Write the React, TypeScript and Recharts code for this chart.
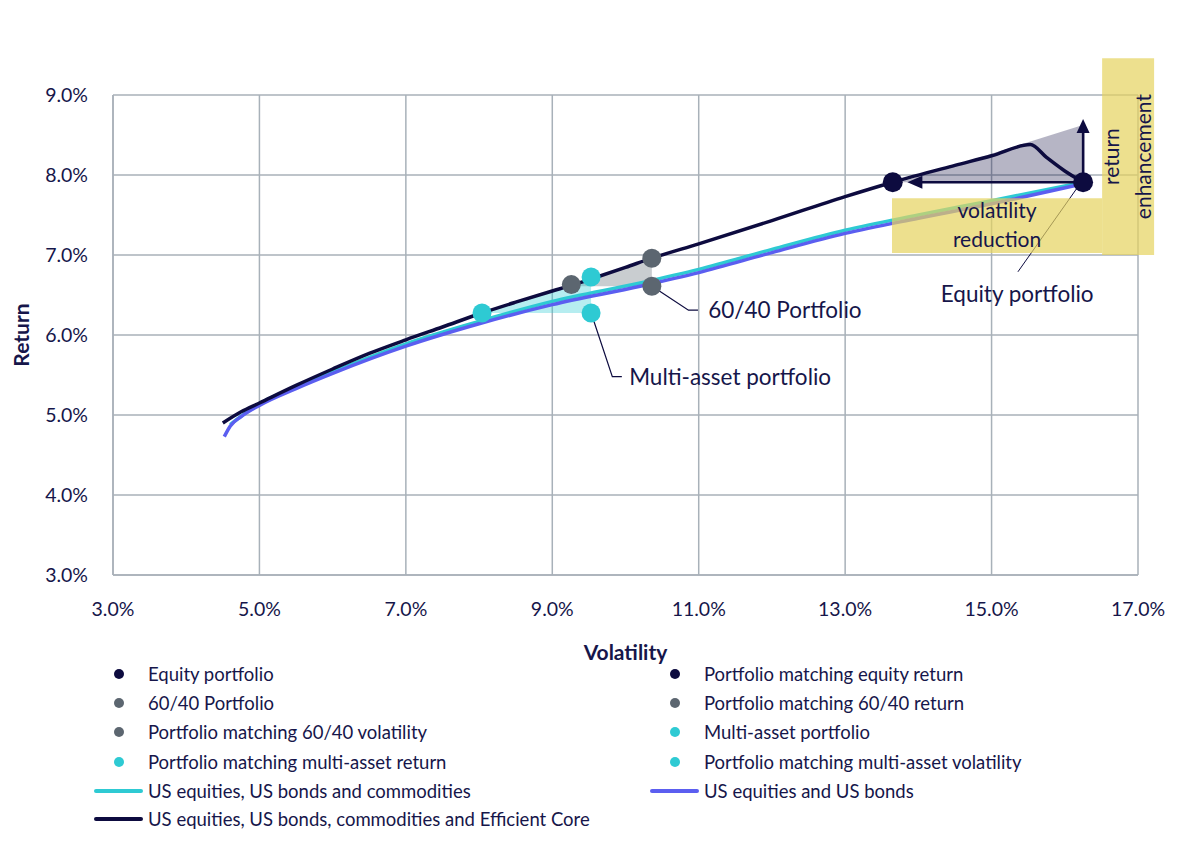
import React from 'react';
import {
  ComposedChart,
  XAxis,
  YAxis,
  CartesianGrid,
  Line,
  Area,
  Scatter,
  ReferenceArea,
} from 'recharts';

const FONT = 'Lato, "Noto Sans", sans-serif';
const NAVY = '#0d0b3f';
const SLATE = '#5c6670';
const CYAN = '#2ecad3';
const BLUE = '#5b5ef0';
const GRID = '#a8b1b9';
const TEXT = '#16164a';
const YELLOW = '#e5d35e';

const volatilityTicks = [3, 5, 7, 9, 11, 13, 15, 17];
const returnTicks = [3, 4, 5, 6, 7, 8, 9];

// Efficient frontiers (volatility %, return %)
const efficientCoreFrontier = [
  { vol: 4.5, ret: 4.9 },
  { vol: 4.75, ret: 5.04 },
  { vol: 5.0, ret: 5.15 },
  { vol: 5.5, ret: 5.37 },
  { vol: 6.0, ret: 5.575 },
  { vol: 6.5, ret: 5.77 },
  { vol: 7.0, ret: 5.94 },
  { vol: 7.5, ret: 6.1 },
  { vol: 8.04, ret: 6.275 },
  { vol: 8.5, ret: 6.41 },
  { vol: 9.0, ret: 6.55 },
  { vol: 9.26, ret: 6.62 },
  { vol: 9.53, ret: 6.7 },
  { vol: 10.0, ret: 6.845 },
  { vol: 10.36, ret: 6.96 },
  { vol: 11.0, ret: 7.14 },
  { vol: 12.0, ret: 7.43 },
  { vol: 13.0, ret: 7.73 },
  { vol: 13.65, ret: 7.91 },
  { vol: 14.5, ret: 8.12 },
  { vol: 15.0, ret: 8.24 },
  { vol: 15.53, ret: 8.38 },
  { vol: 15.75, ret: 8.22 },
  { vol: 16.0, ret: 8.05 },
  { vol: 16.25, ret: 7.91 },
];

const commoditiesFrontier = [
  { vol: 4.6, ret: 4.88 },
  { vol: 5.0, ret: 5.14 },
  { vol: 5.5, ret: 5.35 },
  { vol: 6.0, ret: 5.54 },
  { vol: 7.0, ret: 5.89 },
  { vol: 8.0, ret: 6.17 },
  { vol: 9.0, ret: 6.42 },
  { vol: 10.2, ret: 6.65 },
  { vol: 11.0, ret: 6.82 },
  { vol: 12.0, ret: 7.07 },
  { vol: 13.0, ret: 7.31 },
  { vol: 14.0, ret: 7.5 },
  { vol: 15.0, ret: 7.68 },
  { vol: 16.25, ret: 7.91 },
];

const bondsFrontier = [
  { vol: 4.52, ret: 4.73 },
  { vol: 4.6, ret: 4.86 },
  { vol: 4.75, ret: 4.98 },
  { vol: 5.0, ret: 5.12 },
  { vol: 5.5, ret: 5.33 },
  { vol: 6.0, ret: 5.52 },
  { vol: 7.0, ret: 5.86 },
  { vol: 8.0, ret: 6.14 },
  { vol: 9.0, ret: 6.38 },
  { vol: 10.2, ret: 6.61 },
  { vol: 11.0, ret: 6.78 },
  { vol: 12.0, ret: 7.03 },
  { vol: 13.0, ret: 7.27 },
  { vol: 14.0, ret: 7.46 },
  { vol: 15.0, ret: 7.64 },
  { vol: 16.25, ret: 7.89 },
];

// Portfolios
const equityPortfolio = [{ vol: 16.25, ret: 7.91 }];
const matchingEquityReturn = [{ vol: 13.65, ret: 7.91 }];
const portfolio6040 = [{ vol: 10.36, ret: 6.61 }];
const matching6040Return = [{ vol: 9.26, ret: 6.63 }];
const matching6040Volatility = [{ vol: 10.36, ret: 6.96 }];
const multiAssetPortfolio = [{ vol: 9.53, ret: 6.275 }];
const matchingMultiAssetReturn = [{ vol: 8.04, ret: 6.275 }];
const matchingMultiAssetVolatility = [{ vol: 9.53, ret: 6.725 }];

// Shaded improvement regions
const equityRegion = [
  { vol: 13.75, ret: 7.91 },
  { vol: 16.27, ret: 8.63 },
];
const equityRegionBase = 7.91;
const sixtyFortyRegion = [
  { vol: 9.26, ret: 6.62 },
  { vol: 9.53, ret: 6.7 },
  { vol: 10.0, ret: 6.845 },
  { vol: 10.36, ret: 6.96 },
];
const sixtyFortyRegionBase = 6.61;
const multiAssetRegion = [
  { vol: 8.04, ret: 6.275 },
  { vol: 8.5, ret: 6.41 },
  { vol: 9.0, ret: 6.55 },
  { vol: 9.26, ret: 6.62 },
  { vol: 9.53, ret: 6.715 },
];
const multiAssetRegionBase = 6.275;

// Arrows
const volatilityArrow = [
  { vol: 16.25, ret: 7.91 },
  { vol: 13.95, ret: 7.91 },
];
const returnArrow = [
  { vol: 16.25, ret: 7.91 },
  { vol: 16.25, ret: 8.58 },
];
const arrowHeads = [
  { vol: 13.85, ret: 7.91, dir: 'left' },
  { vol: 16.25, ret: 8.7, dir: 'up' },
];

// Leader lines & callouts
const equityLeader = [
  { vol: 16.17, ret: 7.84 },
  { vol: 15.36, ret: 6.79 },
];
const sixtyFortyLeader = [
  { vol: 10.38, ret: 6.6 },
  { vol: 10.86, ret: 6.31 },
  { vol: 10.99, ret: 6.31 },
];
const multiAssetLeader = [
  { vol: 9.54, ret: 6.25 },
  { vol: 9.82, ret: 5.48 },
  { vol: 9.95, ret: 5.48 },
];
const callouts = [
  { vol: 15.35, ret: 6.51, text: 'Equity portfolio', anchor: 'middle' },
  { vol: 11.13, ret: 6.31, text: '60/40 Portfolio', anchor: 'start' },
  { vol: 10.05, ret: 5.475, text: 'Multi-asset portfolio', anchor: 'start' },
];

// Yellow annotation boxes
const volatilityBox = { x1: 13.64, x2: 16.51, y1: 7.025, y2: 7.71 };
const returnBox = { x1: 16.51, x2: 17.22, y1: 7.0, y2: 9.46 };
const volatilityBoxText = ['volatility', 'reduction'];
const returnBoxText = ['return', 'enhancement'];

// Legend
const legendLeft = [
  { label: 'Equity portfolio', color: NAVY, kind: 'dot' },
  { label: '60/40 Portfolio', color: SLATE, kind: 'dot' },
  { label: 'Portfolio matching 60/40 volatility', color: SLATE, kind: 'dot' },
  { label: 'Portfolio matching multi-asset return', color: CYAN, kind: 'dot' },
  { label: 'US equities, US bonds and commodities', color: CYAN, kind: 'line' },
  { label: 'US equities, US bonds, commodities and Efficient Core', color: NAVY, kind: 'line' },
];
const legendRight = [
  { label: 'Portfolio matching equity return', color: NAVY, kind: 'dot' },
  { label: 'Portfolio matching 60/40 return', color: SLATE, kind: 'dot' },
  { label: 'Multi-asset portfolio', color: CYAN, kind: 'dot' },
  { label: 'Portfolio matching multi-asset volatility', color: CYAN, kind: 'dot' },
  { label: 'US equities and US bonds', color: BLUE, kind: 'line' },
];

const dotShape = (color: string, r: number) => (p: any) =>
  <circle cx={p.cx} cy={p.cy} r={r} fill={color} />;

const arrowHeadShape = (p: any) => {
  const { cx, cy, payload } = p;
  if (payload.dir === 'left') {
    return <polygon points={`${cx},${cy} ${cx + 15},${cy - 6.5} ${cx + 15},${cy + 6.5}`} fill={NAVY} />;
  }
  return <polygon points={`${cx},${cy} ${cx - 6.5},${cy + 14} ${cx + 6.5},${cy + 14}`} fill={NAVY} />;
};

const calloutShape = (p: any) => (
  <text
    x={p.cx}
    y={p.cy}
    dy="0.35em"
    textAnchor={p.payload.anchor}
    fill={TEXT}
    fontSize={22.5}
    fontFamily={FONT}
  >
    {p.payload.text}
  </text>
);

function BoxCaption(props: any) {
  const { viewBox, lines, rotate } = props;
  if (!viewBox) return null;
  const { x, y, width, height } = viewBox;
  const cx = x + width / 2;
  const cy = y + height / 2;
  const n = lines.length;
  if (rotate) {
    return (
      <g>
        {lines.map((t: string, i: number) => {
          const tx = cx + (i - (n - 1) / 2) * 32;
          return (
            <text
              key={t}
              x={tx}
              y={cy}
              dy="0.35em"
              textAnchor="middle"
              transform={`rotate(-90 ${tx} ${cy})`}
              fill={TEXT}
              fontSize={21}
              fontFamily={FONT}
            >
              {t}
            </text>
          );
        })}
      </g>
    );
  }
  return (
    <g>
      {lines.map((t: string, i: number) => (
        <text
          key={t}
          x={cx}
          y={cy + (i - (n - 1) / 2) * 29}
          dy="0.35em"
          textAnchor="middle"
          fill={TEXT}
          fontSize={21}
          fontFamily={FONT}
        >
          {t}
        </text>
      ))}
    </g>
  );
}

const pct = (v: number) => `${v.toFixed(1)}%`;

function LegendColumn({ items, left }: { items: any[]; left: number }) {
  const rowCenters = [666, 695, 724, 754, 783, 811];
  return (
    <>
      {items.map((it, i) => (
        <div
          key={it.label}
          style={{
            position: 'absolute',
            left,
            top: rowCenters[i] - 14,
            height: 28,
            display: 'flex',
            alignItems: 'center',
            whiteSpace: 'nowrap',
          }}
        >
          <div style={{ width: 54, height: 28, position: 'relative' }}>
            {it.kind === 'dot' ? (
              <div
                style={{
                  position: 'absolute',
                  left: 20,
                  top: 9,
                  width: 10,
                  height: 10,
                  borderRadius: 5,
                  background: it.color,
                }}
              />
            ) : (
              <div
                style={{
                  position: 'absolute',
                  left: 0,
                  top: 12,
                  width: 49,
                  height: 4,
                  borderRadius: 2,
                  background: it.color,
                }}
              />
            )}
          </div>
          <span style={{ fontSize: 18.5, color: TEXT, fontFamily: FONT }}>{it.label}</span>
        </div>
      ))}
    </>
  );
}

export default function App() {
  const refAreaExtra: any = { zIndex: 450 };
  return (
    <div style={{ position: 'relative', width: 1184, height: 846, fontFamily: FONT, background: '#fff' }}>
      <ComposedChart width={1184} height={670} margin={{ top: 87, right: 54, left: 0, bottom: 0 }}>
        <CartesianGrid stroke={GRID} strokeWidth={1.5} />
        <XAxis
          type="number"
          dataKey="vol"
          domain={[3, 17]}
          ticks={volatilityTicks}
          interval={0}
          allowDataOverflow
          tickFormatter={pct}
          tick={{ fill: TEXT, fontSize: 19.5, fontFamily: FONT }}
          tickLine={false}
          tickSize={0}
          tickMargin={27}
          axisLine={{ stroke: GRID, strokeWidth: 1.5 }}
          height={103}
          label={{ value: 'Volatility', position: 'insideBottom', offset: 18, fill: TEXT, fontSize: 21, fontWeight: 700, fontFamily: FONT }}
        />
        <YAxis
          type="number"
          dataKey="ret"
          domain={[3, 9]}
          ticks={returnTicks}
          interval={0}
          allowDataOverflow
          tickFormatter={pct}
          tick={{ fill: TEXT, fontSize: 19.5, fontFamily: FONT }}
          tickLine={false}
          tickSize={0}
          tickMargin={25}
          axisLine={{ stroke: GRID, strokeWidth: 1.5 }}
          width={105}
          label={{ value: 'Return', angle: -90, position: 'insideLeft', offset: 14, fill: TEXT, fontSize: 21, fontWeight: 700, fontFamily: FONT, style: { textAnchor: 'middle' } }}
        />

        <Area data={equityRegion} dataKey="ret" type="linear" baseValue={equityRegionBase} fill={NAVY} fillOpacity={0.3} stroke="none" isAnimationActive={false} />
        <Area data={sixtyFortyRegion} dataKey="ret" type="linear" baseValue={sixtyFortyRegionBase} fill={SLATE} fillOpacity={0.33} stroke="none" isAnimationActive={false} />
        <Area data={multiAssetRegion} dataKey="ret" type="linear" baseValue={multiAssetRegionBase} fill={CYAN} fillOpacity={0.35} stroke="none" isAnimationActive={false} />

        <Line data={commoditiesFrontier} dataKey="ret" type="monotone" stroke={CYAN} strokeWidth={3.5} dot={false} activeDot={false} isAnimationActive={false} />
        <Line data={bondsFrontier} dataKey="ret" type="monotone" stroke={BLUE} strokeWidth={3.5} dot={false} activeDot={false} isAnimationActive={false} />
        <Line data={efficientCoreFrontier} dataKey="ret" type="monotone" stroke={NAVY} strokeWidth={3.5} dot={false} activeDot={false} isAnimationActive={false} />

        <ReferenceArea
          {...refAreaExtra}
          x1={volatilityBox.x1}
          x2={volatilityBox.x2}
          y1={volatilityBox.y1}
          y2={volatilityBox.y2}
          fill={YELLOW}
          fillOpacity={0.7}
          stroke="none"
          ifOverflow="visible"
          label={<BoxCaption lines={volatilityBoxText} />}
        />
        <ReferenceArea
          {...refAreaExtra}
          x1={returnBox.x1}
          x2={returnBox.x2}
          y1={returnBox.y1}
          y2={returnBox.y2}
          fill={YELLOW}
          fillOpacity={0.7}
          stroke="none"
          ifOverflow="visible"
          label={<BoxCaption lines={returnBoxText} rotate />}
        />

        <Line data={volatilityArrow} dataKey="ret" type="linear" stroke={NAVY} strokeWidth={2.5} dot={false} activeDot={false} isAnimationActive={false} />
        <Line data={returnArrow} dataKey="ret" type="linear" stroke={NAVY} strokeWidth={2.5} dot={false} activeDot={false} isAnimationActive={false} />
        <Scatter data={arrowHeads} dataKey="ret" shape={arrowHeadShape} isAnimationActive={false} />

        <Line data={equityLeader} dataKey="ret" type="linear" stroke={NAVY} strokeWidth={1} dot={false} activeDot={false} isAnimationActive={false} />
        <Line data={sixtyFortyLeader} dataKey="ret" type="linear" stroke={NAVY} strokeWidth={1.2} dot={false} activeDot={false} isAnimationActive={false} />
        <Line data={multiAssetLeader} dataKey="ret" type="linear" stroke={NAVY} strokeWidth={1.2} dot={false} activeDot={false} isAnimationActive={false} />

        <Scatter data={portfolio6040} dataKey="ret" shape={dotShape(SLATE, 9.5)} isAnimationActive={false} />
        <Scatter data={matching6040Return} dataKey="ret" shape={dotShape(SLATE, 9.5)} isAnimationActive={false} />
        <Scatter data={matching6040Volatility} dataKey="ret" shape={dotShape(SLATE, 9.5)} isAnimationActive={false} />
        <Scatter data={multiAssetPortfolio} dataKey="ret" shape={dotShape(CYAN, 9.5)} isAnimationActive={false} />
        <Scatter data={matchingMultiAssetReturn} dataKey="ret" shape={dotShape(CYAN, 9.5)} isAnimationActive={false} />
        <Scatter data={matchingMultiAssetVolatility} dataKey="ret" shape={dotShape(CYAN, 9.5)} isAnimationActive={false} />
        <Scatter data={equityPortfolio} dataKey="ret" shape={dotShape(NAVY, 10)} isAnimationActive={false} />
        <Scatter data={matchingEquityReturn} dataKey="ret" shape={dotShape(NAVY, 10)} isAnimationActive={false} />

        <Scatter data={callouts} dataKey="ret" shape={calloutShape} isAnimationActive={false} />
      </ComposedChart>
      <LegendColumn items={legendLeft} left={86} />
      <LegendColumn items={legendRight} left={642} />
    </div>
  );
}
